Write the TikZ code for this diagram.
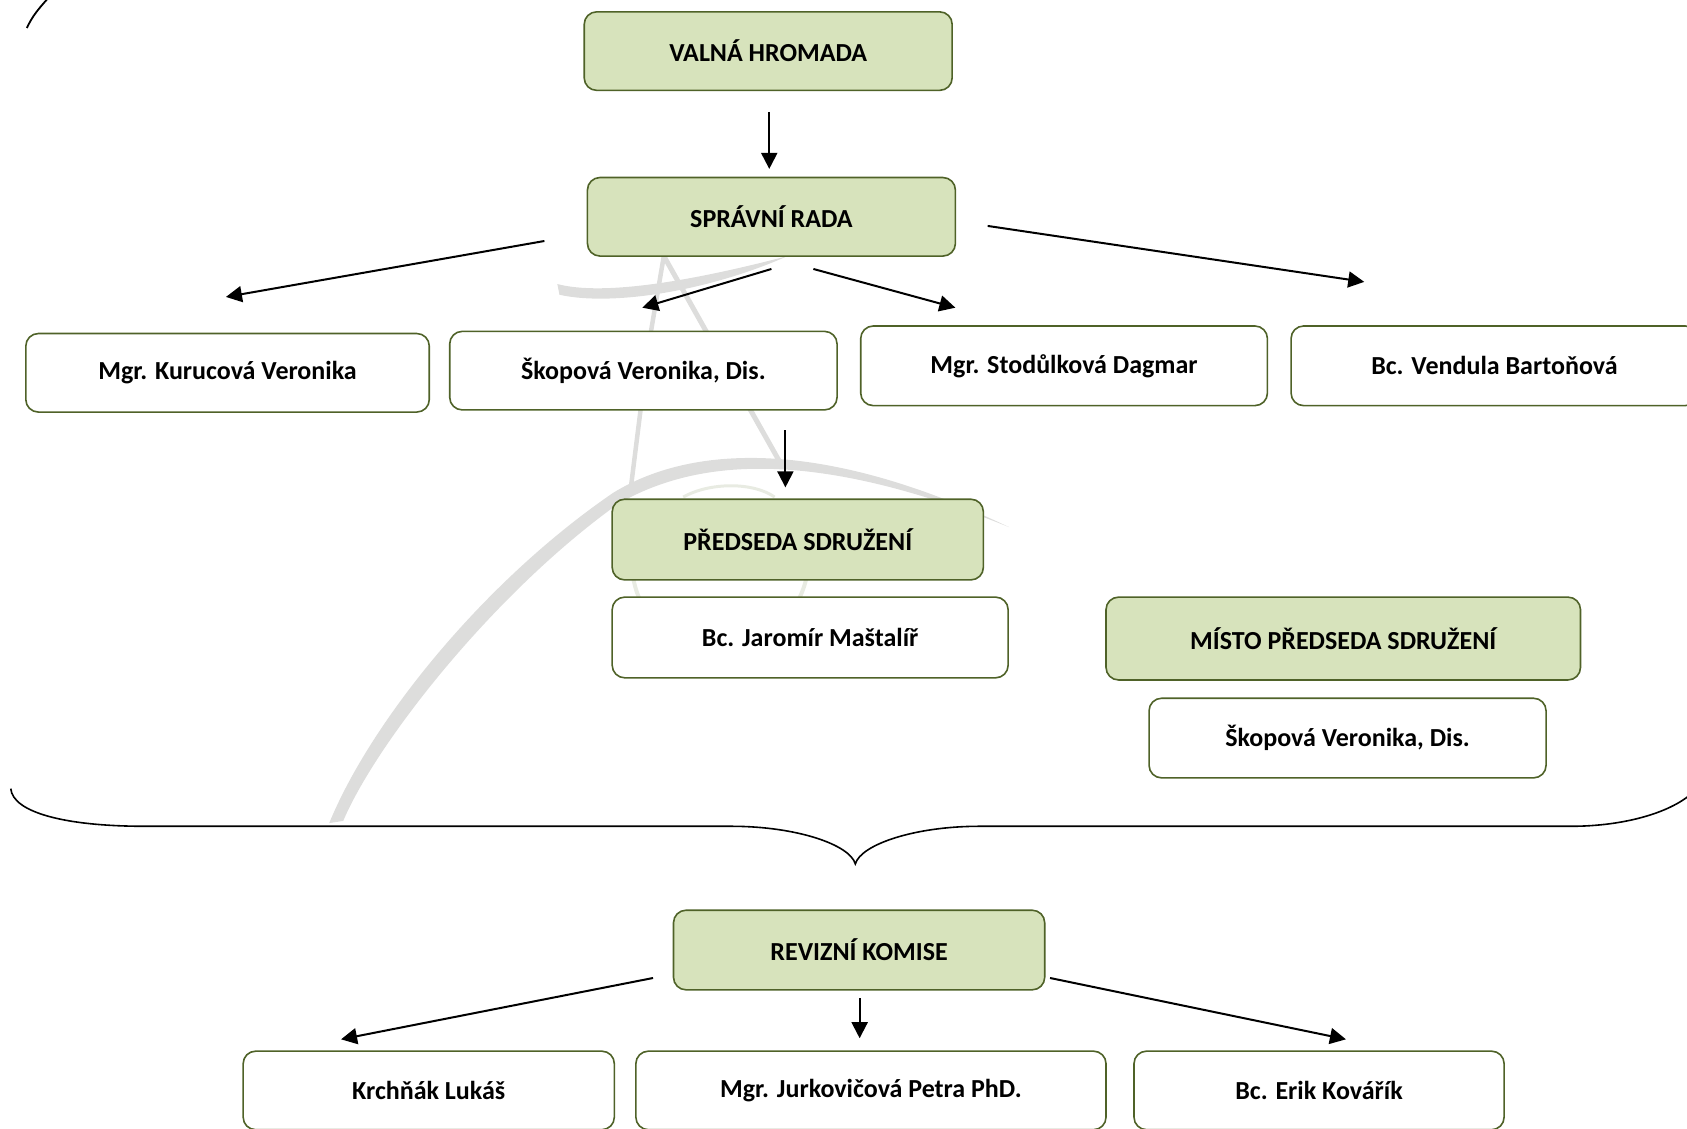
\documentclass[tikz,border=0pt]{standalone}
\usepackage{fontspec}
\setmainfont{Carlito}
\usetikzlibrary{arrows.meta}
\definecolor{boxline}{HTML}{4F6228}
\definecolor{boxgreen}{HTML}{D7E3BC}
\definecolor{wmgray}{HTML}{DDDDDC}
\definecolor{wmlight}{HTML}{E8EBE2}
\tikzset{
  base/.style={rounded corners=12.5pt,draw=boxline,line width=1.6pt,font=\fontsize{26}{30}\selectfont\bfseries,text=black,inner sep=0pt,outer sep=0pt},
  headbox/.style={base,fill=boxgreen},
  namebox/.style={base,fill=white},
  arr/.style={draw=black,line width=2pt,-{Triangle[length=16pt,width=16pt]}},
  wm/.style={fill=wmgray,draw=none},
  wml/.style={draw=wmgray,line cap=round}
}
% \bx{name}{style}{x0}{y0}{x1}{y1}{text}
\newcommand{\bx}[7]{%
  \pgfmathsetmacro{\bw}{(#5-#3)*1.0759}%
  \pgfmathsetmacro{\bh}{(#6-#4)*1.0759}%
  \node[#2,minimum width=\bw pt,minimum height=\bh pt] (#1) at ({(#3+#5)/2},{(#4+#6)/2}) {#7};}
\begin{document}
\begin{tikzpicture}[x=1.0759pt,y=-1.0759pt]
\useasboundingbox (0,0) rectangle (1568,1049.35);
\clip (0,0) rectangle (1568,1049.35);
% watermark
\fill[wm] (306,765) .. controls (345,670) and (450,540) .. (570,458) .. controls (640,415) and (760,405) .. (938,490)
  .. controls (760,418) and (650,425) .. (575,468) .. controls (460,550) and (350,690) .. (319,763) -- cycle;
\fill[wm] (518,264) .. controls (560,275) and (640,262) .. (732,238) .. controls (660,270) and (570,285) .. (520,274) -- cycle;
\draw[wml,line width=4.5pt] (617,238) -- (603,320) -- (586,456);
\draw[wml,line width=5pt] (617,238) -- (680,350) -- (724,428);
\draw[draw=wmlight,line width=3pt] (635,462) .. controls (660,448) and (700,448) .. (720,462);
\draw[draw=wmlight,line width=4pt] (588,535) .. controls (590,545) and (592,552) .. (596,560);
\draw[draw=wmlight,line width=4pt] (750,535) .. controls (748,545) and (745,552) .. (741,560);
\draw[black,line width=1.8pt] (25,26) .. controls (30,15) and (36,8) .. (45,-2);
% boxes
\bx{valna}{headbox}{543}{11}{885}{84}{VALNÁ HROMADA}
\bx{sprava}{headbox}{546}{165}{888}{238}{SPRÁVNÍ RADA}
\bx{kurucova}{namebox}{24}{310}{399}{383}{Mgr. Kurucová Veronika}
\bx{skopova}{namebox}{418}{308}{778}{381}{Škopová Veronika, Dis.}
\bx{stodulkova}{namebox}{800}{303}{1178}{377}{Mgr. Stodůlková Dagmar}
\bx{bartonova}{namebox}{1200}{303}{1578}{377}{Bc. Vendula Bartoňová}
\bx{predseda}{headbox}{569}{464}{914}{539}{PŘEDSEDA SDRUŽENÍ}
\bx{mastalir}{namebox}{569}{555}{937}{630}{Bc. Jaromír Maštalíř}
\bx{misto}{headbox}{1028}{555}{1469}{632}{MÍSTO PŘEDSEDA SDRUŽENÍ}
\bx{skopovab}{namebox}{1068}{649}{1437}{723}{Škopová Veronika, Dis.}
\bx{revizni}{headbox}{626}{846}{971}{920}{REVIZNÍ KOMISE}
\bx{krchnak}{namebox}{226}{977}{571}{1050}{Krchňák Lukáš}
\bx{jurkovicova}{namebox}{591}{977}{1028}{1050}{Mgr. Jurkovičová Petra PhD.}
\bx{kovarik}{namebox}{1054}{977}{1398}{1050}{Bc. Erik Kovářík}
% connectors
\draw[arr] ([shift={(1,56.5)}]valna.center) -- ([shift={(-2,-44.5)}]sprava.center);
\draw[arr] ([shift={(-211,22.5)}]sprava.center) -- ([shift={(-1.5,-70.5)}]kurucova.center);
\draw[arr] ([shift={(0,48.5)}]sprava.center) -- ([shift={(-1,-58.5)}]skopova.center);
\draw[arr] ([shift={(39,48.5)}]sprava.center) -- ([shift={(-101,-54)}]stodulkova.center);
\draw[arr] ([shift={(201,8.5)}]sprava.center) -- ([shift={(-121,-78)}]bartonova.center);
\draw[arr] ([shift={(132,55.5)}]skopova.center) -- ([shift={(-11.5,-48.5)}]predseda.center);
\draw[arr] ([shift={(-191.5,26)}]revizni.center) -- ([shift={(-81.5,-47.5)}]krchnak.center);
\draw[arr] ([shift={(0.5,45)}]revizni.center) -- ([shift={(-10.5,-48.5)}]jurkovicova.center);
\draw[arr] ([shift={(177.5,26)}]revizni.center) -- ([shift={(25,-47.5)}]kovarik.center);
% brace
\draw[black,line width=1.6pt] (10,733) .. controls (12,755) and (60,768) .. (135,768) -- (680,768)
  .. controls (740,768) and (790,785) .. (795,803) .. controls (800,785) and (850,768) .. (910,768) -- (1460,768)
  .. controls (1510,768) and (1555,755) .. (1575,735);
\end{tikzpicture}
\end{document}
